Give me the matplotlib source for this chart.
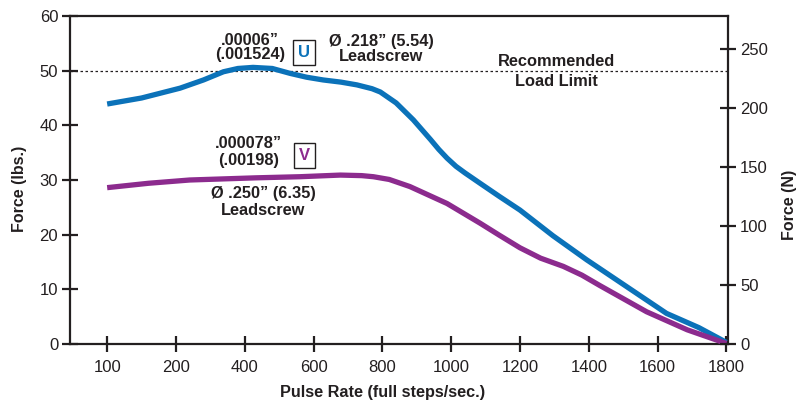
import numpy as np
import matplotlib
matplotlib.use("Agg")
import matplotlib.pyplot as plt

plt.rcParams['font.family'] = ['Liberation Sans', 'DejaVu Sans']

# pulse rate categories (evenly spaced on the chart)
rates = ['100', '200', '400', '600', '800', '1000', '1200', '1400', '1600', '1800']

# curve U (blue), positions in category index units
u_pos = [0, 0.5, 1.06, 1.4, 1.69, 1.9, 2.12, 2.4, 2.66, 2.9, 3.14, 3.4, 3.63, 3.85, 3.97,
         4.2, 4.45, 4.7, 4.82, 4.94, 5.07, 5.2, 5.42, 5.7, 6.0, 6.48, 6.97, 7.55, 8.13, 8.6, 9]
u_lbs = [43.9, 45.0, 46.8, 48.3, 49.8, 50.4, 50.6, 50.4, 49.5, 48.8, 48.3, 47.9, 47.4, 46.7,
         46.1, 44.1, 41.0, 37.4, 35.6, 34.0, 32.5, 31.3, 29.4, 27.0, 24.5, 19.8, 15.4, 10.5,
         5.6, 3.0, 0.3]

# curve V (purple)
v_pos = [0, 0.6, 1.2, 2.17, 2.8, 3.39, 3.7, 3.87, 4.1, 4.4, 4.94, 5.42, 5.7, 6.0, 6.3,
         6.63, 6.9, 7.16, 7.84, 8.43, 9]
v_lbs = [28.6, 29.4, 30.0, 30.4, 30.6, 30.9, 30.8, 30.6, 30.1, 28.8, 25.7, 22.1, 19.9,
         17.6, 15.7, 14.2, 12.6, 10.7, 5.9, 2.6, 0.1]

load_limit = 50

blue = '#0b72b9'
purple = '#8c2b8e'
dark = '#231f20'

fig = plt.figure(figsize=(8.01, 4.0), dpi=100)
ax = fig.add_axes([0.0874, 0.14, 0.822, 0.82])

ax.plot(u_pos, u_lbs, color=blue, lw=3.8, solid_capstyle='butt', solid_joinstyle='round', zorder=3)
ax.plot(v_pos, v_lbs, color=purple, lw=3.8, solid_capstyle='butt', solid_joinstyle='round', zorder=3)
ax.axhline(load_limit, color=dark, lw=0.9, ls=(0, (2, 2)), zorder=2)

ax.set_xlim(-0.54, 9.03)
ax.set_ylim(0, 60)
ax.set_xticks(range(len(rates)))
ax.set_xticklabels(rates)
ax.set_yticks(range(0, 61, 10))

for s in ax.spines.values():
    s.set_linewidth(1.6)
    s.set_color(dark)
ax.tick_params(direction='inout', length=11, width=1.6, labelsize=12, colors=dark, pad=3)
ax.tick_params(axis='x', pad=6)

ax.set_xlabel('Pulse Rate (full steps/sec.)', fontsize=11.7, fontweight='bold', color=dark)
ax.xaxis.set_label_coords(0.474, -0.125)
ax.set_ylabel('Force (lbs.)', fontsize=11.5, fontweight='bold', color=dark)
ax.yaxis.set_label_coords(-0.066, 0.473)

ax2 = ax.twinx()
ax2.set_ylim(0, 278)
ax2.set_yticks(range(0, 251, 50))
for s in ax2.spines.values():
    s.set_visible(False)
ax2.tick_params(direction='inout', length=11, width=1.6, labelsize=12, colors=dark, pad=3)
ax2.set_ylabel('Force (N)', fontsize=11.5, fontweight='bold', color=dark)
ax2.yaxis.set_label_coords(1.081, 0.424)

tk = dict(fontsize=11.8, fontweight='bold', color=dark, ha='center', va='center')
ax.text(6.53, 51.7, 'Recommended', **tk)
ax.text(6.53, 48.0, 'Load Limit', **tk)

ax.text(2.08, 55.6, '.00006\u201d', **tk)
ax.text(2.08, 52.9, '(.001524)', **tk)
ax.text(2.86, 53.4, 'U', fontsize=12, fontweight='bold', color=blue, ha='center', va='center',
        bbox=dict(boxstyle='square,pad=0.3', fc='white', ec=dark, lw=1))
ax.text(3.98, 55.4, '\u00d8 .218\u201d (5.54)', **tk)
ax.text(3.98, 52.6, 'Leadscrew', **tk)

ax.text(2.05, 36.6, '.000078\u201d', **tk)
ax.text(2.05, 33.6, '(.00198)', **tk)
ax.text(2.87, 34.4, 'V', fontsize=12, fontweight='bold', color=purple, ha='center', va='center',
        bbox=dict(boxstyle='square,pad=0.3', fc='white', ec=dark, lw=1))
ax.text(2.27, 27.6, '\u00d8 .250\u201d (6.35)', **tk)
ax.text(2.27, 24.5, 'Leadscrew', **tk)

fig.savefig('out.png', dpi=100)
